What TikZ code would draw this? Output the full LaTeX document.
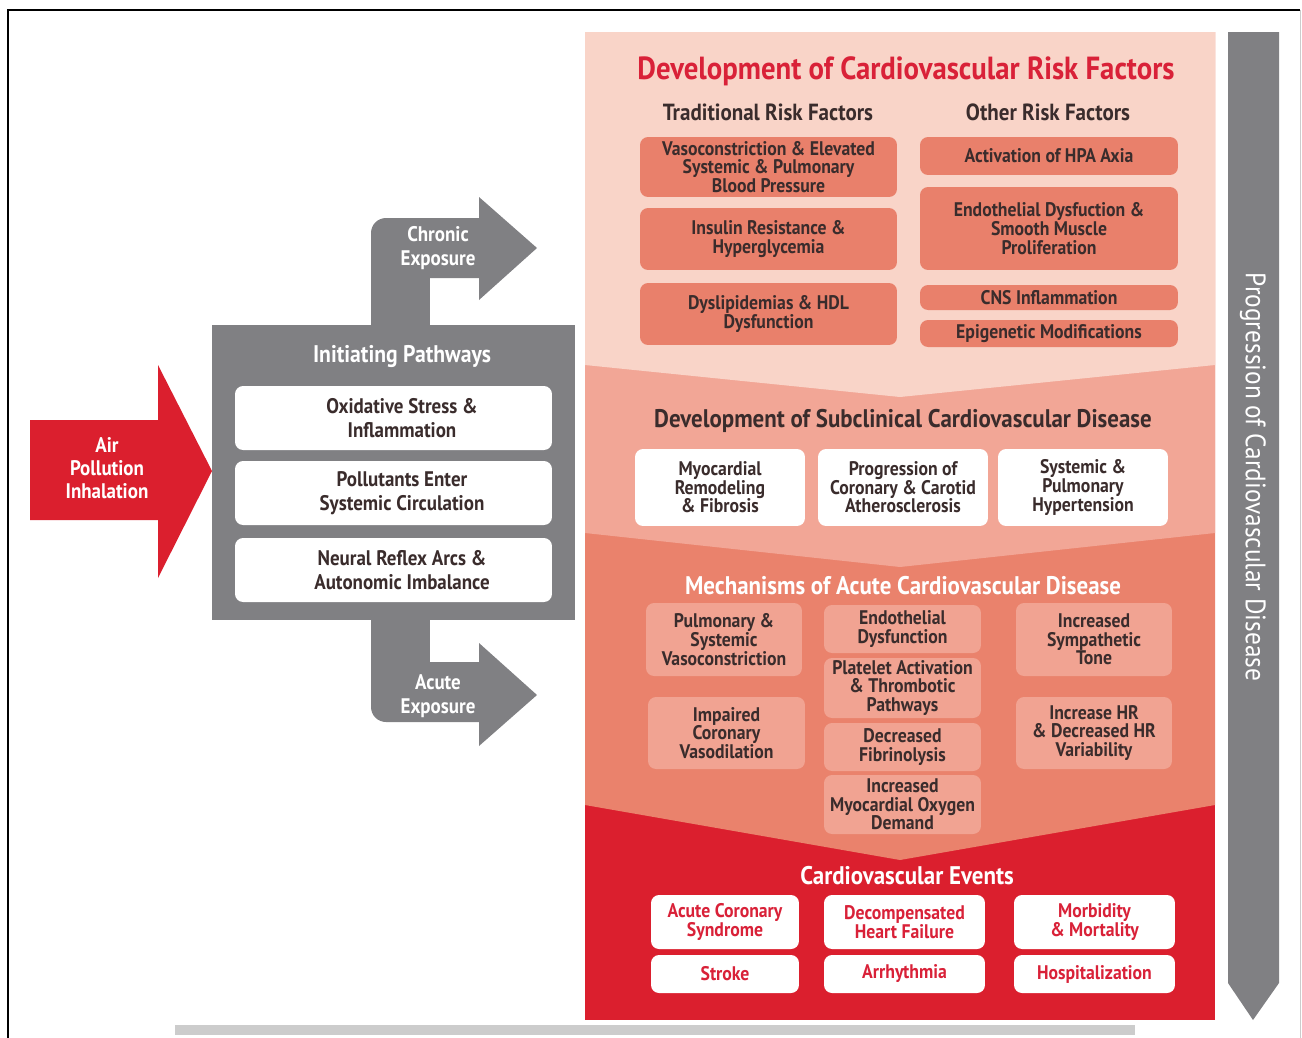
\documentclass[tikz,border=0pt]{standalone}
\usepackage{fontspec}
\setmainfont[FakeStretch=0.9]{PT Sans}
\usepackage{tikz}

\definecolor{airred}{RGB}{219,31,46}
\definecolor{pathgrey}{RGB}{128,128,131}
\definecolor{secone}{RGB}{249,212,200}
\definecolor{sectwo}{RGB}{242,166,150}
\definecolor{secthree}{RGB}{234,130,108}
\definecolor{secfour}{RGB}{219,31,46}
\definecolor{boxsalmon}{RGB}{233,128,107}
\definecolor{boxlight}{RGB}{241,163,146}
\definecolor{darktext}{RGB}{58,44,44}
\definecolor{titlered}{RGB}{217,33,56}
\definecolor{barlight}{RGB}{204,204,204}

\newcommand{\bigtitle}{\fontsize{18.2}{20}\selectfont\bfseries}
\newcommand{\subtitle}{\fontsize{14.5}{16}\selectfont\bfseries}
\newcommand{\coltitle}{\fontsize{13.3}{15}\selectfont\bfseries}
\newcommand{\boxtxt}{\fontsize{11.2}{10.6}\selectfont\bfseries}
\newcommand{\pathtxt}{\fontsize{12}{13.7}\selectfont\bfseries}

\begin{document}
\begin{tikzpicture}[x=0.02cm, y=-0.02cm,
  every node/.style={align=center, inner sep=0pt},
  riskbox/.style={fill=boxsalmon, rounded corners=0.16cm, text=darktext, font=\boxtxt},
  subbox/.style={fill=white, rounded corners=0.16cm, text=darktext, font=\boxtxt},
  mechbox/.style={fill=boxlight, rounded corners=0.16cm, text=darktext, font=\boxtxt},
  eventbox/.style={fill=white, rounded corners=0.16cm, text=titlered, font=\boxtxt},
  pathbox/.style={fill=white, rounded corners=0.16cm,
    minimum width=6.34cm, minimum height=1.28cm},
  pathlabel/.style={text=darktext, font=\pathtxt},
  greytxt/.style={text=white, font=\pathtxt}]
  \useasboundingbox (0,0) rectangle (1302,1038);

  % frame and bottom bar
  \draw[line width=1.2pt] (8,1038) -- (8,10) -- (1300,10);
  \draw[barlight, line width=0.4pt] (1300,10) -- (1300,1038);
  \fill[barlight] (175,1025) rectangle (1135,1035);

  % air pollution arrow
  \fill[airred] (30,420) -- (158,420) -- (158,365) -- (212,471) -- (158,578) -- (158,520) -- (30,520) -- cycle;
  \node[text=white, font=\fontsize{12}{13.1}\selectfont\bfseries] (air) at (107,468) {Air\\Pollution\\Inhalation};

  % chronic and acute exposure arrows
  \fill[pathgrey, rounded corners=0.3cm] (371,218) rectangle (500,278);
  \fill[pathgrey] (371,245) rectangle (430,325);
  \fill[pathgrey] (479,197) -- (537,248) -- (479,300) -- cycle;
  \fill[pathgrey, rounded corners=0.3cm] (371,662) rectangle (500,722);
  \fill[pathgrey] (371,620) rectangle (430,695);
  \fill[pathgrey] (479,643) -- (537,695) -- (479,746) -- cycle;

  % initiating pathways
  \fill[pathgrey] (212,325) rectangle (575,620);
  \node[greytxt] (chronic) at (438,248) {Chronic\\Exposure};
  \node[greytxt] (acute) at (438,696) {Acute\\Exposure};
  \node[text=white, font=\fontsize{13.7}{15}\selectfont\bfseries] (inittitle) at (402,356) {Initiating Pathways};
  \node[pathbox] (oxid) at (393.5,418) {};
  \node[pathlabel] (oxidtxt) at (402,418) {Oxidative Stress \&\\Inflammation};
  \node[pathbox] (pollut) at (393.5,493) {};
  \node[pathlabel] (pollutxt) at (402,493) {Pollutants Enter\\Systemic Circulation};
  \node[pathbox] (neural) at (393.5,570) {};
  \node[pathlabel] (neuraltxt) at (402,570) {Neural Reflex Arcs \&\\Autonomic Imbalance};

  % progression arrow
  \fill[pathgrey] (1228,32) -- (1279,32) -- (1279,983) -- (1253,1020) -- (1228,983) -- cycle;
  \node[text=white, rotate=-90, font=\fontsize{16}{18}\selectfont] (progress) at (1253,477) {Progression of Cardiovascular Disease};

  % stacked sections
  \fill[secfour] (585,32) rectangle (1215,1020);
  \fill[secthree] (585,32) -- (1215,32) -- (1215,805) -- (900,860) -- (585,805) -- cycle;
  \fill[sectwo] (585,32) -- (1215,32) -- (1215,533) -- (900,567) -- (585,533) -- cycle;
  \fill[secone] (585,32) -- (1215,32) -- (1215,365) -- (900,397) -- (585,365) -- cycle;

  % risk factors
  \node[text=titlered, font=\bigtitle] (risktitle) at (906,71) {Development of Cardiovascular Risk Factors};
  \node[text=darktext, font=\coltitle] (tradtitle) at (768,112) {Traditional Risk Factors};
  \node[text=darktext, font=\coltitle] (othertitle) at (1048,112) {Other Risk Factors};
  \node[riskbox, minimum width=5.14cm, minimum height=1.2cm] (vaso) at (768.5,167) {Vasoconstriction \& Elevated\\Systemic \& Pulmonary\\Blood Pressure};
  \node[riskbox, minimum width=5.14cm, minimum height=1.24cm] (insulin) at (768.5,239) {Insulin Resistance \&\\Hyperglycemia};
  \node[riskbox, minimum width=5.14cm, minimum height=1.24cm] (dyslip) at (768.5,314) {Dyslipidemias \& HDL\\Dysfunction};
  \node[riskbox, minimum width=5.16cm, minimum height=0.76cm] (hpa) at (1049,156) {Activation of HPA Axia};
  \node[riskbox, minimum width=5.16cm, minimum height=1.66cm] (endo) at (1049,228.5) {Endothelial Dysfuction \&\\Smooth Muscle\\Proliferation};
  \node[riskbox, minimum width=5.16cm, minimum height=0.5cm] (cns) at (1049,297.5) {CNS Inflammation};
  \node[riskbox, minimum width=5.16cm, minimum height=0.54cm] (epig) at (1049,333.5) {Epigenetic Modifications};

  % subclinical disease
  \node[text=darktext, font=\subtitle] (subtitle) at (903,421) {Development of Subclinical Cardiovascular Disease};
  \node[subbox, minimum width=3.4cm, minimum height=1.54cm] (myo) at (720,487.5) {Myocardial\\Remodeling\\\& Fibrosis};
  \node[subbox, minimum width=3.4cm, minimum height=1.54cm] (athero) at (903,487.5) {Progression of\\Coronary \& Carotid\\Atherosclerosis};
  \node[subbox, minimum width=3.4cm, minimum height=1.54cm] (hypert) at (1083,487.5) {Systemic \&\\Pulmonary\\Hypertension};

  % acute mechanisms
  \node[text=white, font=\subtitle] (mechtitle) at (903,586) {Mechanisms of Acute Cardiovascular Disease};
  \node[mechbox, minimum width=3.12cm, minimum height=1.46cm] (pulm) at (724,639.5) {Pulmonary \&\\Systemic\\Vasoconstriction};
  \node[mechbox, minimum width=3.14cm, minimum height=1.44cm] (impair) at (726.5,733) {Impaired\\Coronary\\Vasodilation};
  \node[mechbox, minimum width=3.14cm, minimum height=0.96cm] (endodys) at (902.5,629) {Endothelial\\Dysfunction};
  \node[mechbox, minimum width=3.14cm, minimum height=1.2cm] (platelet) at (902.5,688) {Platelet Activation\\\& Thrombotic\\Pathways};
  \node[mechbox, minimum width=3.14cm, minimum height=0.96cm] (fibrin) at (902.5,747) {Decreased\\Fibrinolysis};
  \node[mechbox, minimum width=3.14cm, minimum height=1.18cm] (oxygen) at (902.5,804.5) {Increased\\Myocardial Oxygen\\Demand};
  \node[mechbox, minimum width=3.12cm, minimum height=1.46cm] (sympa) at (1094,639.5) {Increased\\Sympathetic\\Tone};
  \node[mechbox, minimum width=3.12cm, minimum height=1.44cm] (hrvar) at (1094,733) {Increase HR\\\& Decreased HR\\Variability};

  % cardiovascular events
  \node[text=white, font=\subtitle] (eventtitle) at (907,876) {Cardiovascular Events};
  \node[eventbox, minimum width=2.96cm, minimum height=1.08cm] (acs) at (725,922) {Acute Coronary\\Syndrome};
  \node[eventbox, minimum width=3.22cm, minimum height=1.08cm] (hf) at (904.5,922) {Decompensated\\Heart Failure};
  \node[eventbox, minimum width=3.22cm, minimum height=1.08cm] (mort) at (1094.5,922) {Morbidity\\\& Mortality};
  \node[eventbox, minimum width=2.96cm, minimum height=0.76cm] (stroke) at (725,974) {Stroke};
  \node[eventbox, minimum width=3.22cm, minimum height=0.76cm] (arrhy) at (904.5,974) {Arrhythmia};
  \node[eventbox, minimum width=3.22cm, minimum height=0.76cm] (hosp) at (1094.5,974) {Hospitalization};
\end{tikzpicture}
\end{document}
